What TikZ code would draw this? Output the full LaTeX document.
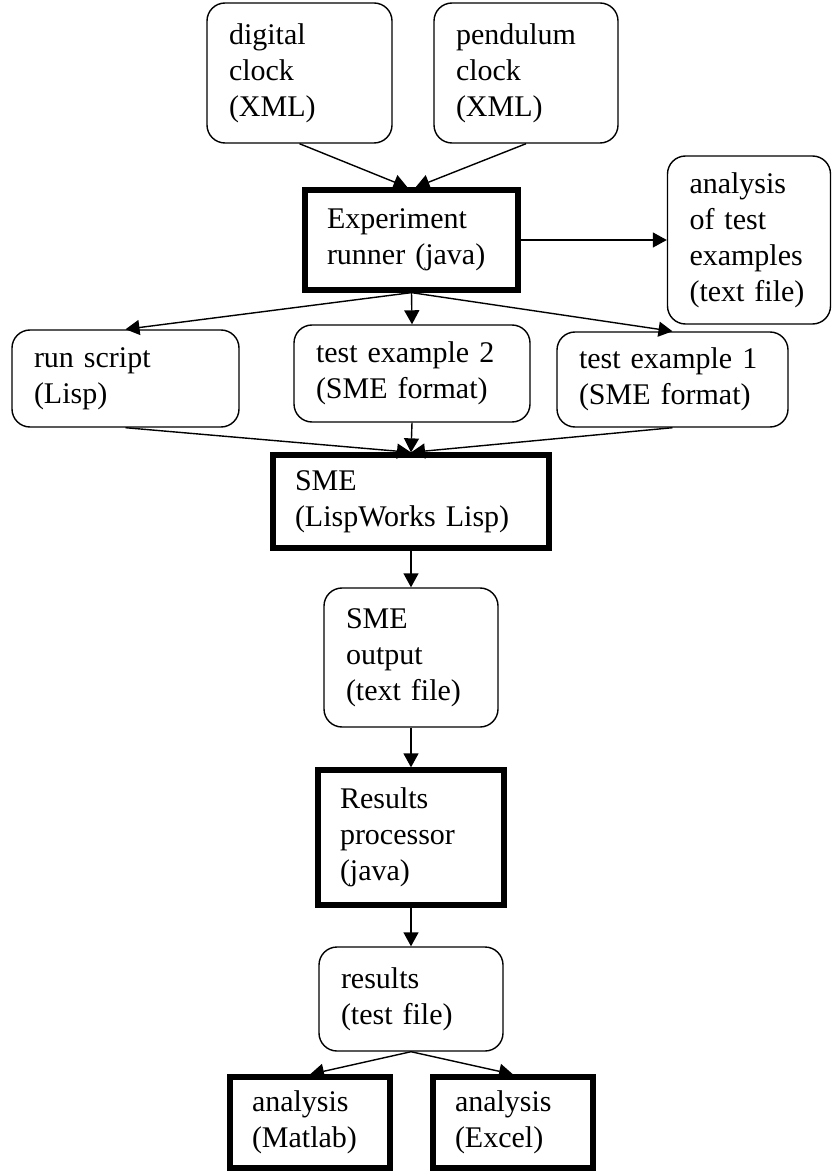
\documentclass[tikz,border=0pt]{standalone}
\usepackage{fontspec}
\setmainfont{Liberation Serif}
\usepackage{tikz}
\usetikzlibrary{arrows.meta}

\tikzset{
    filebox/.style={draw, rounded corners=0.36cm, line width=0.8pt, align=left,
        inner xsep=0.44cm, inner ysep=2pt},
    progbox/.style={draw, line width=3pt, align=left,
        inner xsep=0.44cm, inner ysep=2pt},
    arr/.style={-{Triangle[length=0.28cm, width=0.3cm]}, line width=0.8pt}
}

\begin{document}
\begin{tikzpicture}[font=\fontsize{17.07}{20.5}\selectfont]
    \useasboundingbox (0,0) rectangle (16.64,-23.42);
    % Inputs
    \node[filebox, text width=2.82cm, minimum height=2.80cm] (digital) at (5.99,-1.46) {digital\\clock\\(XML)};
    \node[filebox, text width=2.80cm, minimum height=2.80cm] (pendulum) at (10.52,-1.46) {pendulum\\clock\\(XML)};
    % Experiment runner and its outputs
    \node[progbox, text width=3.38cm, minimum height=2.00cm] (runner) at (8.23,-4.80) {Experiment\\runner (java)};
    \node[filebox, text width=2.38cm, minimum height=3.36cm] (tests) at (14.98,-4.80) {analysis\\of test\\examples\\(text file)};
    \node[filebox, text width=3.66cm, minimum height=1.94cm] (runscript) at (2.51,-7.57) {run script\\(Lisp)};
    \node[filebox, text width=3.84cm, minimum height=1.94cm] (extwo) at (8.24,-7.47) {test example 2\\(SME format)};
    \node[filebox, text width=3.74cm, minimum height=1.90cm] (exone) at (13.45,-7.59) {test example 1\\(SME format)};
    % SME
    \node[progbox, text width=4.64cm, minimum height=1.86cm] (sme) at (8.22,-10.03) {SME\\(LispWorks Lisp)};
    \node[filebox, text width=2.60cm, minimum height=2.78cm] (smeout) at (8.22,-13.15) {SME\\output\\(text file)};
    % Results
    \node[progbox, text width=2.84cm, minimum height=2.70cm] (proc) at (8.22,-16.75) {Results\\processor\\(java)};
    \node[filebox, text width=2.80cm, minimum height=2.08cm] (results) at (8.22,-19.98) {results\\(test file)};
    \node[progbox, text width=2.32cm, minimum height=1.82cm] (matlab) at (6.20,-22.45) {analysis\\(Matlab)};
    \node[progbox, text width=2.32cm, minimum height=1.82cm] (excel) at (10.26,-22.45) {analysis\\(Excel)};

    % Connectors
    \draw[arr] (digital.south) -- ([xshift=-0.08cm]runner.north);
    \draw[arr] (pendulum.south) -- ([xshift=0.08cm]runner.north);
    \draw[arr] (runner.east) -- (tests.west);
    \draw[arr] (runner.south) -- (runscript.north);
    \draw[arr] (runner.south) -- (extwo.north);
    \draw[arr] (runner.south) -- (exone.north);
    \draw[arr] (runscript.south) -- (sme.north);
    \draw[arr] (extwo.south) -- (sme.north);
    \draw[arr] (exone.south) -- (sme.north);
    \draw[arr] (sme.south) -- (smeout.north);
    \draw[arr] (smeout.south) -- (proc.north);
    \draw[arr] (proc.south) -- (results.north);
    \draw[arr] (results.south) -- (matlab.north);
    \draw[arr] (results.south) -- (excel.north);
\end{tikzpicture}
\end{document}
